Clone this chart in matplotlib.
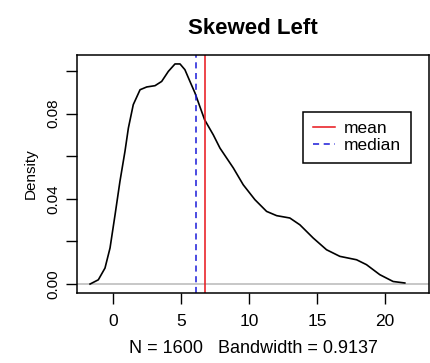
import matplotlib
matplotlib.use("Agg")
import matplotlib.pyplot as plt

plt.rcParams['font.family'] = ['Liberation Sans', 'DejaVu Sans']

# Density curve
xs = [-1.69, -1.08, -0.59, -0.22, 0.15, 0.51, 0.88, 1.13, 1.49, 1.99, 2.48,
      3.09, 3.58, 4.07, 4.56, 4.93, 5.29, 5.66, 6.03, 6.74, 7.38, 7.87, 8.85,
      9.58, 10.44, 11.3, 12.04, 13.01, 13.75, 14.73, 15.71, 16.69, 17.92,
      18.65, 19.63, 20.61, 21.47]
dens = [0.0000, 0.0020, 0.0075, 0.0169, 0.0325, 0.0482, 0.0623, 0.0732,
        0.0842, 0.0912, 0.0925, 0.0931, 0.0951, 0.0998, 0.1033, 0.1033,
        0.1006, 0.0951, 0.0897, 0.0771, 0.0700, 0.0638, 0.0545, 0.0466,
        0.0396, 0.0341, 0.0321, 0.0310, 0.0278, 0.0216, 0.0161, 0.0130,
        0.0114, 0.0091, 0.0044, 0.0012, 0.0005]

mean_val = 6.74
median_val = 6.08
n_obs = 1600
bandwidth = 0.9137

xticks = [0, 5, 10, 15, 20]
yticks = [0.00, 0.02, 0.04, 0.06, 0.08, 0.10]
ylabels = ['0.00', '', '0.04', '', '0.08', '']

W, H = 430, 363
fig = plt.figure(figsize=(W / 100, H / 100), dpi=100)
ax = fig.add_axes([77 / W, 1 - 293 / H, (429 - 77) / W, (293 - 55) / H])

ax.axhline(0, color='#bebebe', lw=1.2)
ax.plot(xs, dens, color='black', lw=1.2)
ax.axvline(mean_val, color='#e8141a', lw=1.1, label='mean')
ax.axvline(median_val, color='#1a1ad8', lw=1.1, ls=(0, (4, 3)), label='median')

ax.set_xlim(-2.65, 23.25)
ax.set_ylim(-0.0042, 0.1075)
ax.set_xticks(xticks)
ax.set_yticks(yticks)
ax.set_yticklabels(ylabels, rotation=90, va='center', fontsize=11)
ax.tick_params(axis='x', labelsize=12.5, length=8, width=1, pad=7)
ax.tick_params(axis='y', length=8, width=1, pad=4)
for s in ax.spines.values():
    s.set_linewidth(1.1)

ax.set_title('Skewed Left', fontsize=16, fontweight='bold', pad=15)
ax.set_ylabel('Density', fontsize=11, labelpad=6)
ax.set_xlabel('N = %d   Bandwidth = %.4f' % (n_obs, bandwidth), fontsize=13, labelpad=8)

leg = ax.legend(loc='upper left', bbox_to_anchor=(0.643, 0.762), fontsize=12.5,
                frameon=True, fancybox=False, edgecolor='black', framealpha=1,
                handlelength=1.3, handletextpad=0.5, labelspacing=0.1,
                borderpad=0.55, borderaxespad=0)
leg.get_frame().set_linewidth(1.1)

fig.savefig('out.png', dpi=100)
